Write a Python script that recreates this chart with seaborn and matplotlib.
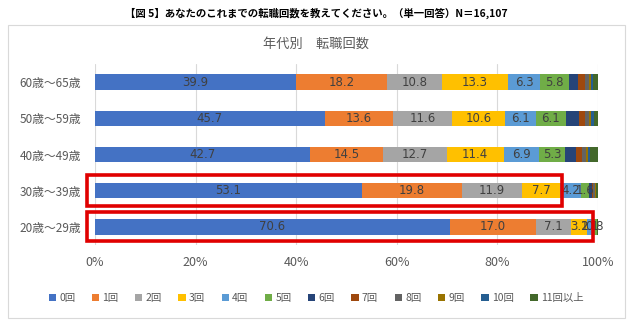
import matplotlib
matplotlib.use("Agg")
import matplotlib.pyplot as plt
import seaborn as sns
import pandas as pd
import numpy as np
from matplotlib.patches import Patch, Rectangle

ages = ["60歳～65歳", "50歳～59歳", "40歳～49歳", "30歳～39歳", "20歳～29歳"]
series = ["0回", "1回", "2回", "3回", "4回", "5回", "6回", "7回", "8回", "9回", "10回", "11回以上"]
s0 = [39.9, 45.7, 42.7, 53.1, 70.6]
s1 = [18.2, 13.6, 14.5, 19.8, 17.0]
s2 = [10.8, 11.6, 12.7, 11.9, 7.1]
s3 = [13.3, 10.6, 11.4, 7.7, 3.2]
s4 = [6.3, 6.1, 6.9, 4.2, 1.1]
s5 = [5.8, 6.1, 5.3, 1.6, 0.8]
s6 = [1.8, 2.6, 2.2, 0.5, 0.1]
s7 = [1.4, 1.2, 1.2, 0.3, 0.0]
s8 = [0.8, 0.8, 0.8, 0.4, 0.0]
s9 = [0.3, 0.3, 0.3, 0.1, 0.0]
s10 = [0.4, 0.6, 0.4, 0.1, 0.0]
s11 = [1.0, 0.8, 1.6, 0.3, 0.1]
values = [s0, s1, s2, s3, s4, s5, s6, s7, s8, s9, s10, s11]
colors = ["#4472C4", "#ED7D31", "#A5A5A5", "#FFC000", "#5B9BD5", "#70AD47",
          "#264478", "#9E480E", "#636363", "#997300", "#255E91", "#43682B"]
labeled = 6  # data labels shown for first six series
title = "【図 5】あなたのこれまでの転職回数を教えてください。（単一回答）N＝16,107"
subtitle = "年代別　転職回数"
xticks = [0, 20, 40, 60, 80, 100]

sns.set_theme(style="white")
plt.rcParams["font.family"] = ["Noto Sans CJK JP", "DejaVu Sans"]

W, H = 632, 327
fig = plt.figure(figsize=(W / 100, H / 100), dpi=100)
fig.patch.set_facecolor("white")

# outer chart frame
fig.patches.append(Rectangle((8 / W, 1 - 318 / H), 617 / W, 293 / H, transform=fig.transFigure,
                             fill=False, edgecolor="#D9D9D9", linewidth=0.8))

ax = fig.add_axes([95 / W, 1 - 245 / H, 503 / W, 181 / H])

arr = np.array(values)
cum = np.cumsum(arr, axis=0)
rows = []
for i, name in enumerate(series):
    for j, a in enumerate(ages):
        rows.append({"series": name, "age": a, "value": arr[i, j], "cum": cum[i, j]})
df = pd.DataFrame(rows)

for i in reversed(range(len(series))):
    sub = df[df["series"] == series[i]]
    sns.barplot(data=sub, x="cum", y="age", order=ages, color=colors[i], orient="h",
                width=0.43, saturation=1, linewidth=0, ax=ax, zorder=3)

# data labels
for i in range(labeled):
    sub = df[df["series"] == series[i]]
    for j, a in enumerate(ages):
        r = sub[sub["age"] == a].iloc[0]
        ax.text(r["cum"] - r["value"] / 2, j, f"{r['value']:.1f}", ha="center", va="center",
                fontsize=8.5, color="#404040", zorder=5, family=["DejaVu Sans"])

ax.set_xlim(0, 100)
ax.set_ylim(4.5, -0.5)
ax.set_xticks(xticks)
ax.set_xticklabels([f"{t}%" for t in xticks], fontsize=9, color="#595959")
ax.tick_params(axis="y", labelsize=8.5, labelcolor="#595959", length=0, pad=10)
ax.tick_params(axis="x", length=0, pad=8)
ax.set_xlabel("")
ax.set_ylabel("")
for s in ax.spines.values():
    s.set_visible(False)
ax.grid(axis="x", color="#D9D9D9", linewidth=0.8, zorder=0)
ax.set_axisbelow(True)

# red highlight boxes
ax.add_patch(Rectangle((-1.6, 3 - 0.42), 94.4, 0.84, fill=False, edgecolor="#E00000",
                       linewidth=2.6, zorder=6, clip_on=False))
ax.add_patch(Rectangle((-1.6, 4 - 0.40), 100.6, 0.80, fill=False, edgecolor="#E00000",
                       linewidth=2.6, zorder=6, clip_on=False))

fig.text(0.5, 1 - 13 / H, title, ha="center", va="center", fontsize=7.5, fontweight="bold",
         color="#000000")
fig.text(0.5, 1 - 44 / H, subtitle, ha="center", va="center", fontsize=9.5, color="#595959")

handles = [Patch(facecolor=c, edgecolor="none", label=n) for c, n in zip(colors, series)]
fig.legend(handles=handles, loc="center", bbox_to_anchor=(0.5, 1 - 298 / H), ncol=12,
           frameon=False, fontsize=7.5, handlelength=0.7, handleheight=0.7, handletextpad=0.3,
           columnspacing=1.6, labelcolor="#595959")

fig.savefig("out.png", dpi=100, facecolor="white")
